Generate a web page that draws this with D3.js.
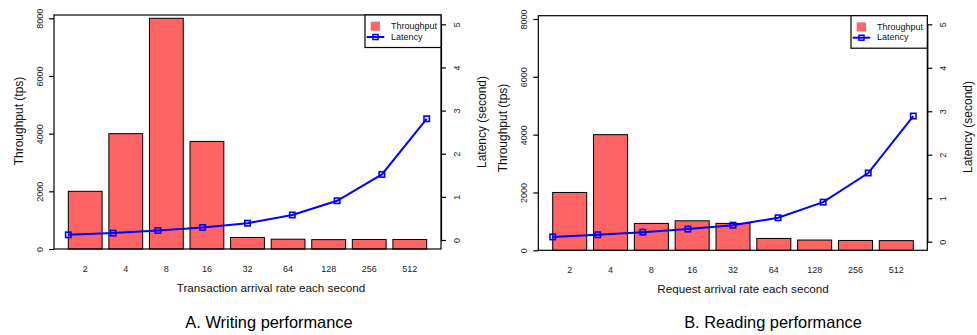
<!DOCTYPE html>
<html>
<head>
<meta charset="utf-8">
<script src="https://cdn.jsdelivr.net/npm/d3@7"></script>
<style>
  body { margin: 0; background: #fff; }
  svg { font-family: "Liberation Sans", Arial, sans-serif; }
</style>
</head>
<body>
<div id="chart"></div>
<script>
const rates = ["2", "4", "8", "16", "32", "64", "128", "256", "512"];
const writeThroughput = [2000, 4000, 8000, 3730, 400, 340, 325, 330, 330];
const writeLatency = [0.12, 0.16, 0.22, 0.29, 0.39, 0.58, 0.91, 1.52, 2.81];
const readThroughput = [2000, 4000, 930, 1020, 930, 410, 355, 340, 335];
const readLatency = [0.11, 0.16, 0.22, 0.29, 0.38, 0.55, 0.91, 1.58, 2.89];
const throughputTicks = [0, 2000, 4000, 6000, 8000];
const latencyTicks = [0, 1, 2, 3, 4, 5];

const svg = d3
  .select("#chart")
  .append("svg")
  .attr("width", 977)
  .attr("height", 335);

const panels = [
  {
    box: { left: 54, right: 441, top: 15, bottom: 249 },
    tpRange: [249, 18.3],
    latRange: [240, 24.3],
    barRange: [68.3, 426.7],
    throughput: writeThroughput,
    latency: writeLatency,
    xTitle: "Transaction arrival rate each second",
    xTitleX: 271,
    title: "A. Writing performance",
    titleX: 269,
    yTitleY: 121,
    y2TitleY: 122,
    legendLeft: 365,
  },
  {
    box: { left: 538.3, right: 927.3, top: 15.7, bottom: 250.3 },
    tpRange: [250.3, 19],
    latRange: [241.7, 24.3],
    barRange: [552.7, 913.3],
    throughput: readThroughput,
    latency: readLatency,
    xTitle: "Request arrival rate each second",
    xTitleX: 743,
    title: "B. Reading performance",
    titleX: 773,
    yTitleY: 128,
    y2TitleY: 127,
    legendLeft: 851,
  },
];

panels.forEach(drawPanel);

function drawPanel(p) {
  const g = svg.append("g");
  const b = p.box;

  const x = d3
    .scaleBand()
    .domain(rates)
    .range(p.barRange)
    .paddingInner(0.2 / 1.2)
    .paddingOuter(0);

  const xLine = d3.scalePoint().domain(rates).range(p.barRange);

  const y = d3.scaleLinear().domain([0, 8000]).range(p.tpRange);
  const y2 = d3.scaleLinear().domain([0, 5]).range(p.latRange);

  // bars
  g.selectAll("rect.bar")
    .data(p.throughput)
    .join("rect")
    .attr("class", "bar")
    .attr("x", (d, i) => x(rates[i]))
    .attr("y", (d) => y(d))
    .attr("width", x.bandwidth())
    .attr("height", (d) => y(0) - y(d))
    .attr("fill", "#ff6464")
    .attr("stroke", "#000")
    .attr("stroke-width", 1);

  // plot box
  g.append("rect")
    .attr("x", b.left)
    .attr("y", b.top)
    .attr("width", b.right - b.left)
    .attr("height", b.bottom - b.top)
    .attr("fill", "none")
    .attr("stroke", "#000")
    .attr("stroke-width", 1.2);

  // left axis
  const left = g
    .append("g")
    .attr("transform", `translate(${b.left},0)`)
    .call(
      d3.axisLeft(y)
        .tickValues(throughputTicks)
        .tickFormat(d3.format("d"))
        .tickSize(5)
    );
  left.select(".domain").remove();
  left.selectAll("line").attr("stroke-width", 1.2);
  left
    .selectAll("text")
    .attr("transform", "translate(-11.5,0) rotate(-90)")
    .attr("x", 0)
    .attr("y", 0)
    .attr("dy", 0)
    .attr("text-anchor", "middle")
    .style("font-size", "9px")
    .style("font-family", "Liberation Sans, Arial, sans-serif")
    .attr("fill", "#222");

  // right axis
  const right = g
    .append("g")
    .attr("transform", `translate(${b.right},0)`)
    .call(
      d3.axisRight(y2)
        .tickValues(latencyTicks)
        .tickFormat(d3.format("d"))
        .tickSize(5)
        .tickSizeOuter(0)
    );
  right.select(".domain").attr("stroke-width", 1.2);
  right.selectAll("line").attr("stroke-width", 1.2);
  right
    .selectAll("text")
    .attr("transform", "translate(19,0) rotate(-90)")
    .attr("x", 0)
    .attr("y", 0)
    .attr("dy", 0)
    .attr("text-anchor", "middle")
    .style("font-size", "9px")
    .style("font-family", "Liberation Sans, Arial, sans-serif")
    .attr("fill", "#222");

  // x tick labels (no tick marks)
  g.selectAll("text.xtick")
    .data(rates)
    .join("text")
    .attr("class", "xtick")
    .attr("x", (d) => x(d) + x.bandwidth() / 2)
    .attr("y", b.bottom + 22.5)
    .attr("text-anchor", "middle")
    .style("font-size", "9px")
    .attr("fill", "#222")
    .text((d) => d);

  // latency line
  const line = d3
    .line()
    .x((d, i) => xLine(rates[i]))
    .y((d) => y2(d));

  g.append("path")
    .datum(p.latency)
    .attr("d", line)
    .attr("fill", "none")
    .attr("stroke", "#0000ff")
    .attr("stroke-width", 2);

  g.selectAll("rect.pt")
    .data(p.latency)
    .join("rect")
    .attr("class", "pt")
    .attr("x", (d, i) => xLine(rates[i]) - 2.7)
    .attr("y", (d) => y2(d) - 2.7)
    .attr("width", 5.4)
    .attr("height", 5.4)
    .attr("fill", "none")
    .attr("stroke", "#0000ff")
    .attr("stroke-width", 1.6);

  // axis titles
  g.append("text")
    .attr("transform", `translate(${b.left - 31},${p.yTitleY}) rotate(-90)`)
    .attr("text-anchor", "middle")
    .style("font-size", "12px")
    .attr("fill", "#111")
    .text("Throughput (tps)");

  g.append("text")
    .attr("transform", `translate(${b.right + 45},${p.y2TitleY}) rotate(-90)`)
    .attr("text-anchor", "middle")
    .style("font-size", "12px")
    .attr("fill", "#111")
    .text("Latency (second)");

  g.append("text")
    .attr("x", p.xTitleX)
    .attr("y", b.bottom + 42.5)
    .attr("text-anchor", "middle")
    .style("font-size", "11.7px")
    .attr("fill", "#111")
    .text(p.xTitle);

  g.append("text")
    .attr("x", p.titleX)
    .attr("y", 327.5)
    .attr("text-anchor", "middle")
    .style("font-size", "16.4px")
    .attr("fill", "#000")
    .text(p.title);

  // legend
  const lg = g.append("g").attr("transform", `translate(${p.legendLeft},${b.top})`);
  const lw = b.right - p.legendLeft;
  lg.append("rect")
    .attr("width", lw)
    .attr("height", 32.5)
    .attr("fill", "#fff")
    .attr("stroke", "#000")
    .attr("stroke-width", 1.2);
  lg.append("rect")
    .attr("x", 5.7)
    .attr("y", 6.7)
    .attr("width", 9.3)
    .attr("height", 9)
    .attr("fill", "#ff6464");
  lg.append("line")
    .attr("x1", 1.7)
    .attr("x2", 19.3)
    .attr("y1", 22)
    .attr("y2", 22)
    .attr("stroke", "#0000ff")
    .attr("stroke-width", 2);
  lg.append("rect")
    .attr("x", 10.5 - 2.5)
    .attr("y", 22 - 2.5)
    .attr("width", 5)
    .attr("height", 5)
    .attr("fill", "none")
    .attr("stroke", "#0000ff")
    .attr("stroke-width", 1.5);
  lg.append("text")
    .attr("x", 26)
    .attr("y", 14)
    .style("font-size", "9px")
    .attr("fill", "#111")
    .text("Throughput");
  lg.append("text")
    .attr("x", 26)
    .attr("y", 24.7)
    .style("font-size", "9px")
    .attr("fill", "#111")
    .text("Latency");
}
</script>
</body>
</html>
